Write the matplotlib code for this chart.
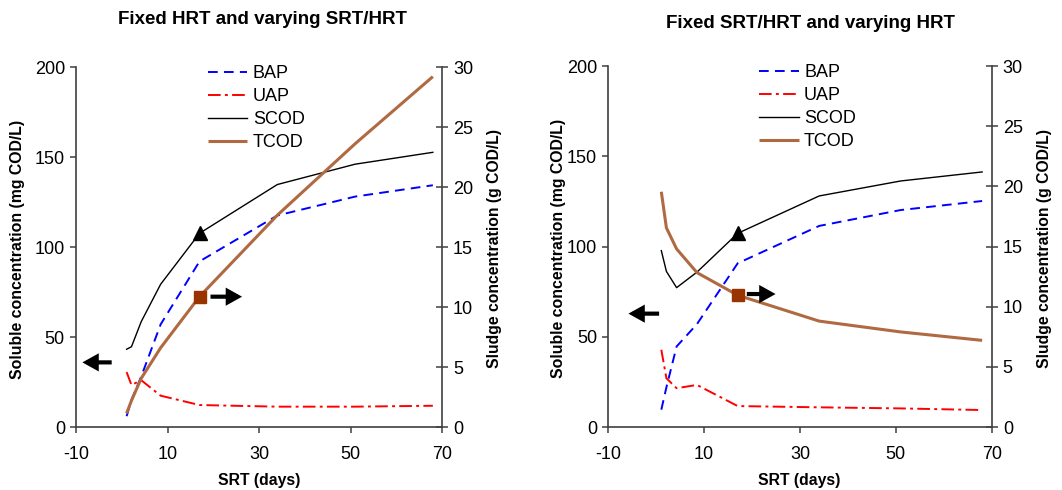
import matplotlib
matplotlib.use("Agg")
import matplotlib.pyplot as plt

plt.rcParams['font.family'] = ['Liberation Sans', 'DejaVu Sans']
plt.rcParams['axes.unicode_minus'] = False

# ---------------- data ----------------
srt = [1.0625, 2.125, 4.25, 8.5, 17, 34, 51, 68]

# Panel A: Fixed HRT and varying SRT/HRT
bap_a = [6.0, 15.0, 28.0, 57.0, 92.0, 117.5, 128.0, 134.3]
uap_a = [30.5, 23.3, 26.0, 17.4, 12.2, 11.3, 11.3, 11.8]
scod_a = [43.2, 44.6, 58.5, 79.3, 107.6, 134.7, 146.0, 152.6]
tcod_a = [1.14, 2.2, 4.05, 6.6, 10.87, 17.65, 23.6, 29.2]

# Panel B: Fixed SRT/HRT and varying HRT
bap_b = [9.6, 22.0, 44.6, 57.0, 90.7, 111.4, 120.2, 125.2]
uap_b = [42.8, 27.0, 21.5, 23.3, 11.6, 10.9, 10.3, 9.4]
scod_b = [97.7, 86.2, 77.2, 85.8, 107.3, 128.0, 136.3, 141.3]
tcod_b = [19.55, 16.55, 14.8, 12.83, 10.95, 8.8, 7.9, 7.2]

titles = ["Fixed HRT and varying SRT/HRT", "Fixed SRT/HRT and varying HRT"]
xticks = [-10, 10, 30, 50, 70]
yticks_left = [0, 50, 100, 150, 200]
yticks_right = [0, 5, 10, 15, 20, 25, 30]
labels = ["BAP", "UAP", "SCOD", "TCOD"]
marker_idx = 4  # SRT = 17 highlighted point

# arrow annotations: (x_tip, x_tail, y) ; left arrow in left-axis units, right arrow in right-axis units
arrows_a = {"left": (-8.6, -2.2, 35.9), "right": (26.3, 19.4, 10.86)}
arrows_b = {"left": (-5.8, 0.6, 62.8), "right": (24.9, 18.9, 11.05)}

# ---------------- styling ----------------
W, H = 1062, 490
fig = plt.figure(figsize=(W / 100, H / 100), dpi=100)

SPINE = '#404040'
TCOD_C = '#b06a42'
SQ_C = '#993300'

panels = [
    dict(rect=[76, 67, 366, 360], bap=bap_a, uap=uap_a, scod=scod_a, tcod=tcod_a,
         arrows=arrows_a, title_xy=(263, 19), leg_x=0.36,
         ylab_l=17.5, ylab_r=495, xlab_x=259),
    dict(rect=[608.3, 66, 383.4, 361], bap=bap_b, uap=uap_b, scod=scod_b, tcod=tcod_b,
         arrows=arrows_b, title_xy=(810, 23), leg_x=0.393,
         ylab_l=558.5, ylab_r=1044.5, xlab_x=799),
]

for i, p in enumerate(panels):
    l, t, w, h = p['rect']
    ax = fig.add_axes([l / W, 1 - (t + h) / H, w / W, h / H])
    ax2 = ax.twinx()

    lb, = ax.plot(srt, p['bap'], color='#0000ff', lw=1.4, dashes=(5, 3.2))
    lu, = ax.plot(srt, p['uap'], color='#ff0000', lw=1.4, dashes=(6.5, 2.2, 1.5, 2.2))
    ls, = ax.plot(srt, p['scod'], color='black', lw=1.0)
    ax.plot([srt[marker_idx]], [p['scod'][marker_idx]], linestyle='none', marker='^',
            markersize=9.5, markerfacecolor='black', markeredgecolor='black')
    lt, = ax2.plot(srt, p['tcod'], color=TCOD_C, lw=2.2, solid_capstyle='butt')
    ax2.plot([srt[marker_idx]], [p['tcod'][marker_idx]], linestyle='none', marker='s',
             markersize=8.5, markerfacecolor=SQ_C, markeredgecolor=SQ_C)

    ax.set_xlim(-10, 70)
    ax.set_ylim(0, 200)
    ax2.set_ylim(0, 30)
    ax.set_xticks(xticks)
    ax.set_yticks(yticks_left)
    ax2.set_yticks(yticks_right)

    for a in (ax, ax2):
        a.spines['top'].set_visible(False)
        for s in a.spines.values():
            s.set_color(SPINE)
            s.set_linewidth(1.2)
    ax.spines['right'].set_visible(False)
    ax2.spines['left'].set_visible(False)
    ax2.spines['bottom'].set_visible(False)

    ax.tick_params(axis='x', direction='out', length=4, width=1.1, color=SPINE,
                   labelsize=13, pad=10)
    ax.tick_params(axis='y', direction='out', length=4, width=1.1, color=SPINE,
                   labelsize=13, pad=4)
    ax2.tick_params(axis='y', direction='inout', length=8, width=1.1, color=SPINE,
                    labelsize=13, pad=4)

    # arrows
    xt, xs, y = p['arrows']['left']
    ax.annotate('', xy=(xt, y), xytext=(xs, y),
                arrowprops=dict(arrowstyle='-|>,head_length=0.45,head_width=0.25',
                                lw=3, color='black', shrinkA=0, shrinkB=0,
                                mutation_scale=16, joinstyle='miter', capstyle='butt'))
    xt, xs, y = p['arrows']['right']
    ax2.annotate('', xy=(xt, y), xytext=(xs, y),
                 arrowprops=dict(arrowstyle='-|>,head_length=0.45,head_width=0.25',
                                 lw=3, color='black', shrinkA=0, shrinkB=0,
                                 mutation_scale=16, joinstyle='miter', capstyle='butt'))

    # legend
    ax2.legend([lb, lu, ls, lt], labels, loc='upper left',
               bbox_to_anchor=(p['leg_x'], 1.005), frameon=False, fontsize=13,
               handlelength=2.2, handletextpad=0.3, labelspacing=0.33,
               borderpad=0, borderaxespad=0)

    # texts
    tx, ty = p['title_xy']
    fig.text(tx / W, 1 - ty / H, titles[i], ha='center', va='center',
             fontsize=13.5, fontweight='bold')
    cy = 1 - (t + h / 2 + 2) / H
    fig.text(p['ylab_l'] / W, cy, "Soluble concentration (mg COD/L)", rotation=90,
             ha='center', va='center', fontsize=11.4, fontweight='bold')
    fig.text(p['ylab_r'] / W, cy, "Sludge concentration (g COD/L)", rotation=90,
             ha='center', va='center', fontsize=11.3, fontweight='bold')
    fig.text(p['xlab_x'] / W, 1 - 480 / H, "SRT (days)", ha='center', va='center',
             fontsize=11.3, fontweight='bold')

fig.savefig('out.png', dpi=100)
